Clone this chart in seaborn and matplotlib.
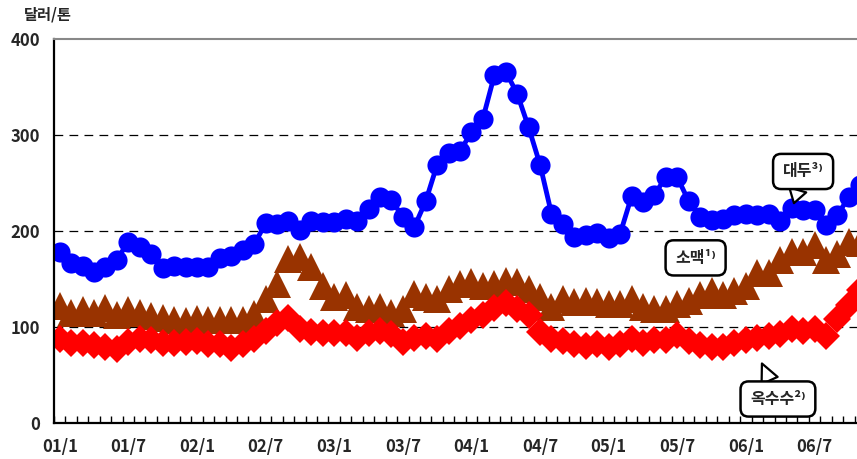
import pandas as pd
import seaborn as sns
import matplotlib.pyplot as plt
from matplotlib.ticker import FixedLocator

# monthly prices, 2001/1 - 2006/11 (dollar per ton)
soybean = [178, 167, 164, 157, 163, 170, 189, 183, 176, 161,
           164, 162, 162, 162, 172, 174, 180, 186, 208, 207,
           210, 201, 210, 209, 209, 212, 210, 223, 235, 232,
           215, 204, 231, 269, 281, 283, 303, 317, 362, 366,
           343, 308, 269, 218, 207, 194, 196, 198, 193, 197,
           236, 230, 238, 256, 256, 231, 215, 211, 213, 217,
           218, 217, 218, 210, 224, 222, 222, 206, 217, 235,
           248]
wheat = [122, 115, 118, 115, 120, 113, 118, 115, 111, 109,
         107, 106, 108, 107, 107, 107, 107, 114, 129, 145,
         171, 173, 162, 143, 131, 133, 121, 119, 121, 115,
         119, 134, 131, 129, 140, 145, 147, 143, 145, 148,
         147, 140, 131, 121, 129, 126, 127, 126, 124, 124,
         129, 121, 119, 119, 124, 127, 133, 138, 133, 137,
         143, 156, 156, 170, 178, 178, 185, 170, 176, 189,
         188]
corn = [87, 83, 83, 81, 79, 77, 84, 87, 86, 83,
        83, 84, 85, 82, 82, 78, 82, 87, 96, 104,
        109, 98, 95, 94, 94, 94, 89, 94, 96, 93,
        84, 89, 91, 88, 96, 101, 107, 112, 120, 125,
        119, 112, 95, 87, 85, 82, 80, 82, 79, 82,
        87, 83, 86, 86, 92, 85, 81, 79, 79, 83,
        86, 89, 91, 93, 98, 96, 98, 91, 108, 123,
        139]

months = [f'{y % 100:02d}/{m}' for y in range(2001, 2007) for m in range(1, 13)][:len(soybean)]
tick_labels = months[::6]
y_ticks = [0, 100, 200, 300, 400]

df = pd.DataFrame({'pos': range(len(months)), 'month': months,
                   'soybean': soybean, 'wheat': wheat, 'corn': corn})

sns.set_style('white')
plt.rcParams['font.family'] = ['Noto Sans CJK KR', 'DejaVu Sans']
plt.rcParams['font.weight'] = 'bold'

fig = plt.figure(figsize=(8.57, 4.59), dpi=100)
ax = fig.add_axes([54 / 857, 36 / 459, 812 / 857, 384 / 459])

sns.lineplot(data=df, x='pos', y='wheat', ax=ax, color='#993300', marker='^',
             markersize=20, markeredgewidth=0, linewidth=0)
sns.lineplot(data=df, x='pos', y='corn', ax=ax, color='#ff0000', marker='D',
             markersize=14, markeredgewidth=0, linewidth=0)
sns.lineplot(data=df, x='pos', y='soybean', ax=ax, color='#0000ff', marker='o',
             markersize=14.5, markeredgewidth=0, linewidth=3.5)

ax.set_xlim(-0.5, len(months) - 0.5)
ax.set_ylim(0, 400)
ax.set_xlabel('')
ax.set_ylabel('')

ax.set_xticks(range(0, len(months), 6))
ax.set_xticklabels(tick_labels, fontsize=12, fontweight='bold')
ax.xaxis.set_minor_locator(FixedLocator([i - 0.5 for i in range(len(months) + 1)]))
ax.tick_params(axis='x', which='major', length=0, pad=11)
ax.tick_params(axis='x', which='minor', direction='in', length=5, width=1, color='black', bottom=True)
ax.set_yticks(y_ticks)
ax.set_yticklabels([str(v) for v in y_ticks], fontsize=12, fontweight='bold')
ax.tick_params(axis='y', length=0, pad=10)

for v in y_ticks[1:-1]:
    ax.axhline(v, color='black', linestyle=(0, (7, 5)), linewidth=0.9, zorder=0)

for side in ['left', 'bottom']:
    ax.spines[side].set_color('black')
    ax.spines[side].set_linewidth(1.6)
ax.spines['top'].set_color('#888888')
ax.spines['top'].set_linewidth(1.5)
ax.spines['right'].set_visible(False)

fig.text(24 / 857, 1 - 15 / 459, '달러/톤', fontsize=11, fontweight='bold', va='center', ha='left')

box = dict(boxstyle='round,pad=0.6,rounding_size=0.5', fc='white', ec='black', lw=1.8)
tail = dict(arrowstyle='wedge,tail_width=1.1', fc='white', ec='black', lw=1.6,
            shrinkA=0, shrinkB=0)
ax.annotate('대두³⁾', xy=(64.2, 229), xytext=(65.0, 262), fontsize=11.5, fontweight='bold',
            ha='center', va='center', bbox=box, arrowprops=tail)
ax.text(55.6, 172, '소맥¹⁾', fontsize=11.5, fontweight='bold', ha='center', va='center', bbox=box)
ax.annotate('옥수수²⁾', xy=(61.4, 62), xytext=(62.8, 25), fontsize=11.5, fontweight='bold',
            ha='center', va='center', bbox=box, arrowprops=tail)

fig.savefig('out.png', dpi=100)
